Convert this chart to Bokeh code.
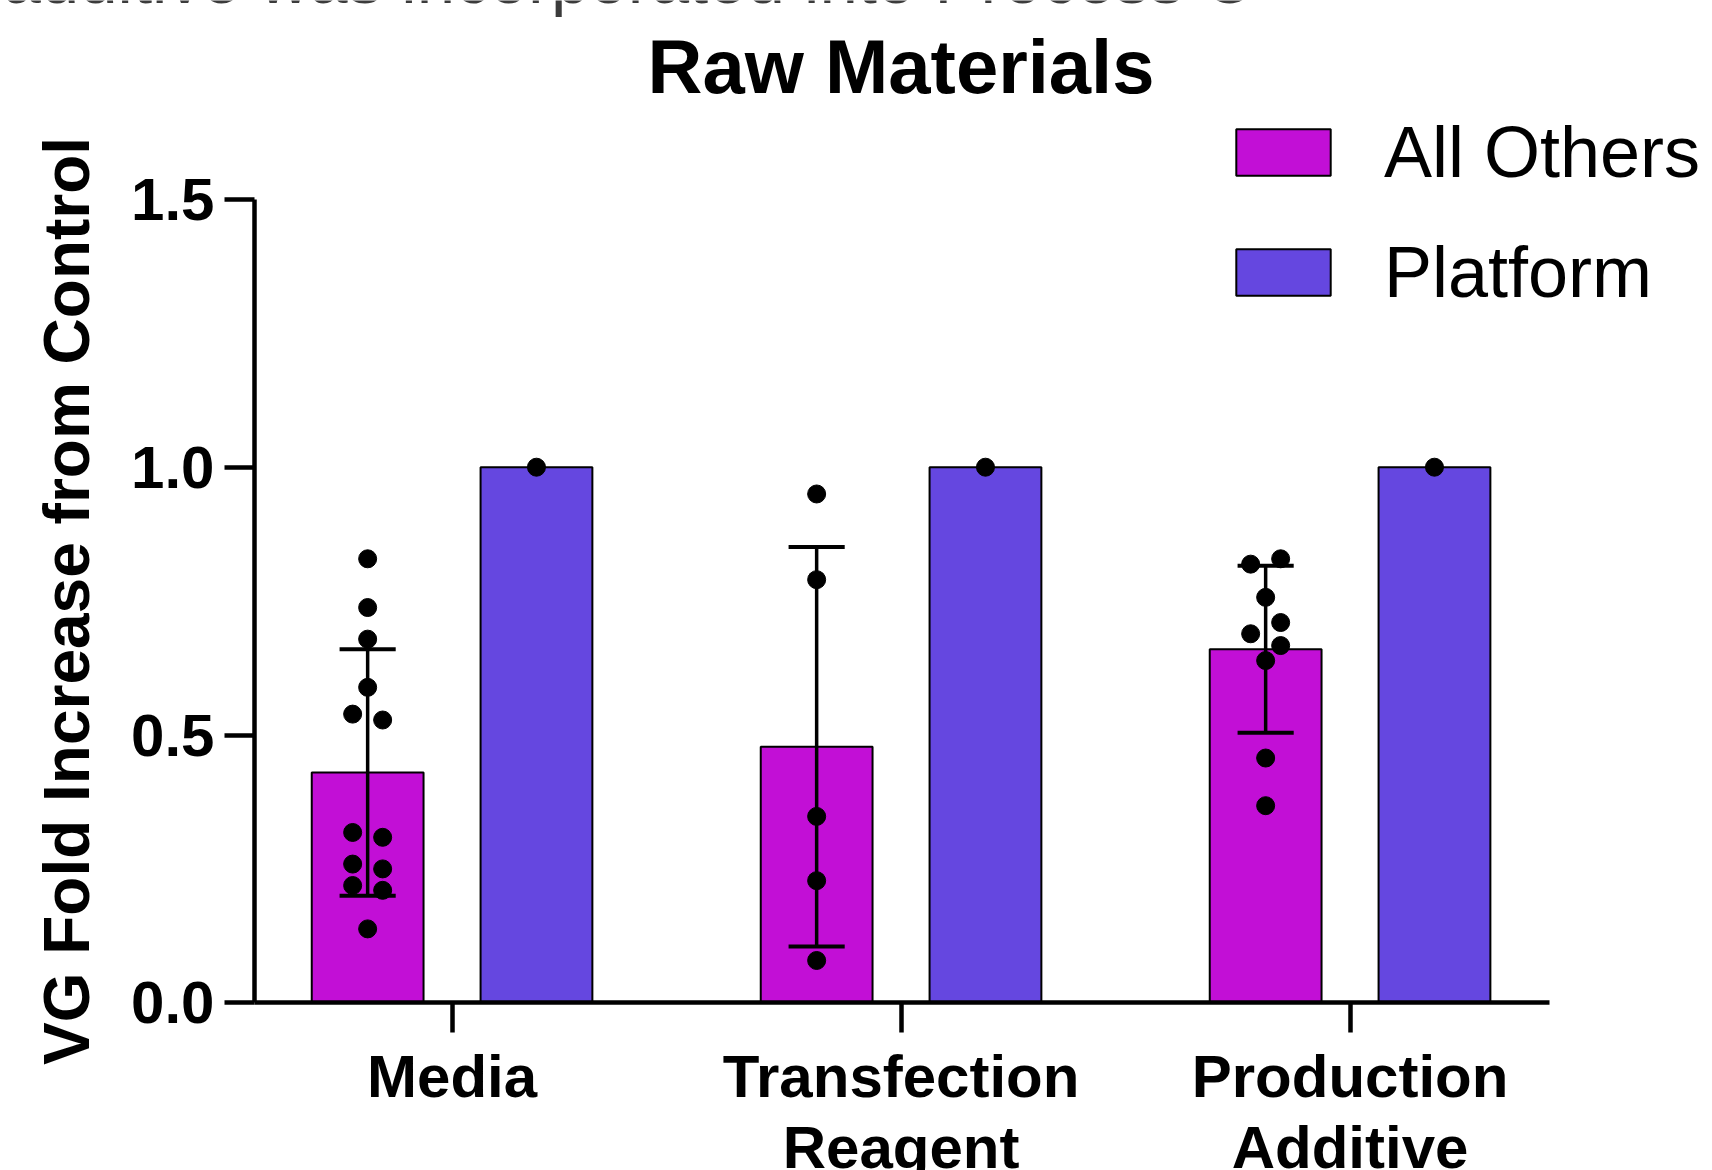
import numpy as np
from bokeh.plotting import figure
from bokeh.models import (Range1d, Legend, LegendItem, Label,
                          FixedTicker, NumeralTickFormatter)
from bokeh.embed import file_html
from bokeh.resources import INLINE

# ---- data -------------------------------------------------------------
categories = ["Media", "Transfection", "Production"]
category_second_line = ["", "Reagent", "Additive"]
series = ["All Others", "Platform"]

others_mean = [0.43, 0.478, 0.66]
others_sd = [0.23, 0.373, 0.156]
platform_mean = [1.0, 1.0, 1.0]

media_points = [0.829, 0.738, 0.679, 0.589, 0.539, 0.528, 0.318, 0.309,
                0.259, 0.250, 0.219, 0.210, 0.138]
transfection_points = [0.950, 0.790, 0.348, 0.228, 0.079]
production_points = [0.819, 0.829, 0.757, 0.689, 0.710, 0.667, 0.639, 0.457, 0.368]
platform_points = [1.0, 1.0, 1.0]

# dot column (-1 left, 0 centre, +1 right) used to spread overlapping dots
media_side = [0, 0, 0, 0, -1, 1, -1, 1, -1, 1, -1, 1, 0]
transfection_side = [0, 0, 0, 0, 0]
production_side = [-1, 1, 0, -1, 1, 1, 0, 0, 0]

y_ticks = [0, 0.5, 1.0, 1.5]

# ---- geometry / style -------------------------------------------------
W, H = 1712, 1170
AXIS_X_PX = 254          # pixel column of the y axis
AXIS_Y_PX = 1002.3       # pixel row of the x axis (y = 0)
PX_PER_CAT = 449.0
PX_PER_UNIT = 535.6
X_START, X_END = -0.44, 2.445
Y_START, Y_END = 0.0, 1.5

MAGENTA = "#C20FD6"
PURPLE = "#6547E0"
FONT = "Liberation Sans"
BAR_W = 0.249
OFFSET = 0.188
DOT_STEP = 0.0334
CAP = 0.0625


def px_to_x(px):
    return X_START + (px - AXIS_X_PX) / PX_PER_CAT


def px_to_y(py):
    return (AXIS_Y_PX - py) / PX_PER_UNIT


# the frame covers the whole canvas; axes are pinned at x=-0.44 / y=0
p = figure(width=W, height=H,
           x_range=Range1d(px_to_x(0), px_to_x(W)),
           y_range=Range1d(px_to_y(H), px_to_y(0)),
           output_backend="svg", toolbar_location=None, min_border=0)
p.xgrid.visible = False
p.ygrid.visible = False
p.outline_line_color = None
p.background_fill_color = "white"
p.border_fill_color = "white"

xc = np.arange(len(categories), dtype=float)
x_others = xc - OFFSET
x_platform = xc + OFFSET

r_others = p.vbar(x=x_others, top=others_mean, bottom=0, width=BAR_W,
                  fill_color=MAGENTA, line_color="black", line_width=2)
r_platform = p.vbar(x=x_platform, top=platform_mean, bottom=0, width=BAR_W,
                    fill_color=PURPLE, line_color="black", line_width=2)

# mean +/- SD error bars
mean = np.array(others_mean)
sd = np.array(others_sd)
lo = mean - sd
hi = mean + sd
p.segment(x0=x_others, y0=lo, x1=x_others, y1=hi, line_color="black", line_width=3.5)
p.segment(x0=x_others - CAP, y0=hi, x1=x_others + CAP, y1=hi, line_color="black", line_width=4)
p.segment(x0=x_others - CAP, y0=lo, x1=x_others + CAP, y1=lo, line_color="black", line_width=4)

# individual data points
groups = [(media_points, media_side), (transfection_points, transfection_side),
          (production_points, production_side)]
px, py = [], []
for i, (vals, sides) in enumerate(groups):
    for v, s in zip(vals, sides):
        px.append(x_others[i] + s * DOT_STEP)
        py.append(v)
for i, v in enumerate(platform_points):
    px.append(x_platform[i])
    py.append(v)
p.scatter(x=px, y=py, size=18, fill_color="black", line_color="black")

# ---- axes -------------------------------------------------------------
p.xaxis.fixed_location = 0
p.xaxis.bounds = (X_START, X_END)
p.yaxis.fixed_location = X_START
p.yaxis.bounds = (Y_START, Y_END)

p.xaxis.ticker = FixedTicker(ticks=list(range(len(categories))))
p.xaxis.major_label_overrides = {i: c for i, c in enumerate(categories)}
p.yaxis.ticker = FixedTicker(ticks=y_ticks)
p.yaxis.formatter = NumeralTickFormatter(format="0.0")

for ax in (p.xaxis, p.yaxis):
    ax.axis_line_width = 4.5
    ax.axis_line_color = "black"
    ax.major_tick_line_width = 4.5
    ax.major_tick_line_color = "black"
    ax.major_tick_out = 30
    ax.major_tick_in = 0
    ax.minor_tick_line_color = None
    ax.major_label_text_font = FONT
    ax.major_label_text_font_style = "bold"
    ax.major_label_text_font_size = "60px"
    ax.major_label_text_color = "black"
    ax.major_label_standoff = 10

p.yaxis.axis_label = "VG Fold Increase from Control"
p.yaxis.axis_label_text_font = FONT
p.yaxis.axis_label_text_font_style = "bold"
p.yaxis.axis_label_text_font_size = "64px"
p.yaxis.axis_label_text_color = "black"
p.yaxis.axis_label_standoff = 25

# second line of the two-word category names
for i, t in enumerate(category_second_line):
    if t:
        p.add_layout(Label(x=i, y=px_to_y(1147), text=t, text_align="center",
                           text_baseline="alphabetic", text_font=FONT,
                           text_font_style="bold", text_font_size="60px",
                           text_color="black"))

# ---- titles -----------------------------------------------------------
p.add_layout(Label(x=1.0, y=px_to_y(66), text="Raw Materials", text_align="center",
                   text_baseline="alphabetic", text_font=FONT, text_font_style="bold",
                   text_font_size="76px", text_color="black"))
p.add_layout(Label(x=px_to_x(2), y=px_to_y(-21.5),
                   text="additive was incorporated into Process C",
                   text_align="left", text_baseline="alphabetic", text_font=FONT,
                   text_font_size="69px", text_color="#3b3b3b"))

# ---- legend -----------------------------------------------------------
legend = Legend(items=[LegendItem(label=series[0], renderers=[r_others]),
                       LegendItem(label=series[1], renderers=[r_platform])],
                location=(1224, 857), glyph_width=118, glyph_height=58,
                label_text_font=FONT, label_text_font_size="72px",
                label_text_color="black", label_standoff=42, spacing=38,
                padding=0, margin=0, border_line_color=None,
                background_fill_alpha=0, label_height=46)
p.add_layout(legend, "center")

open("out.html", "w").write(file_html(p, INLINE))
